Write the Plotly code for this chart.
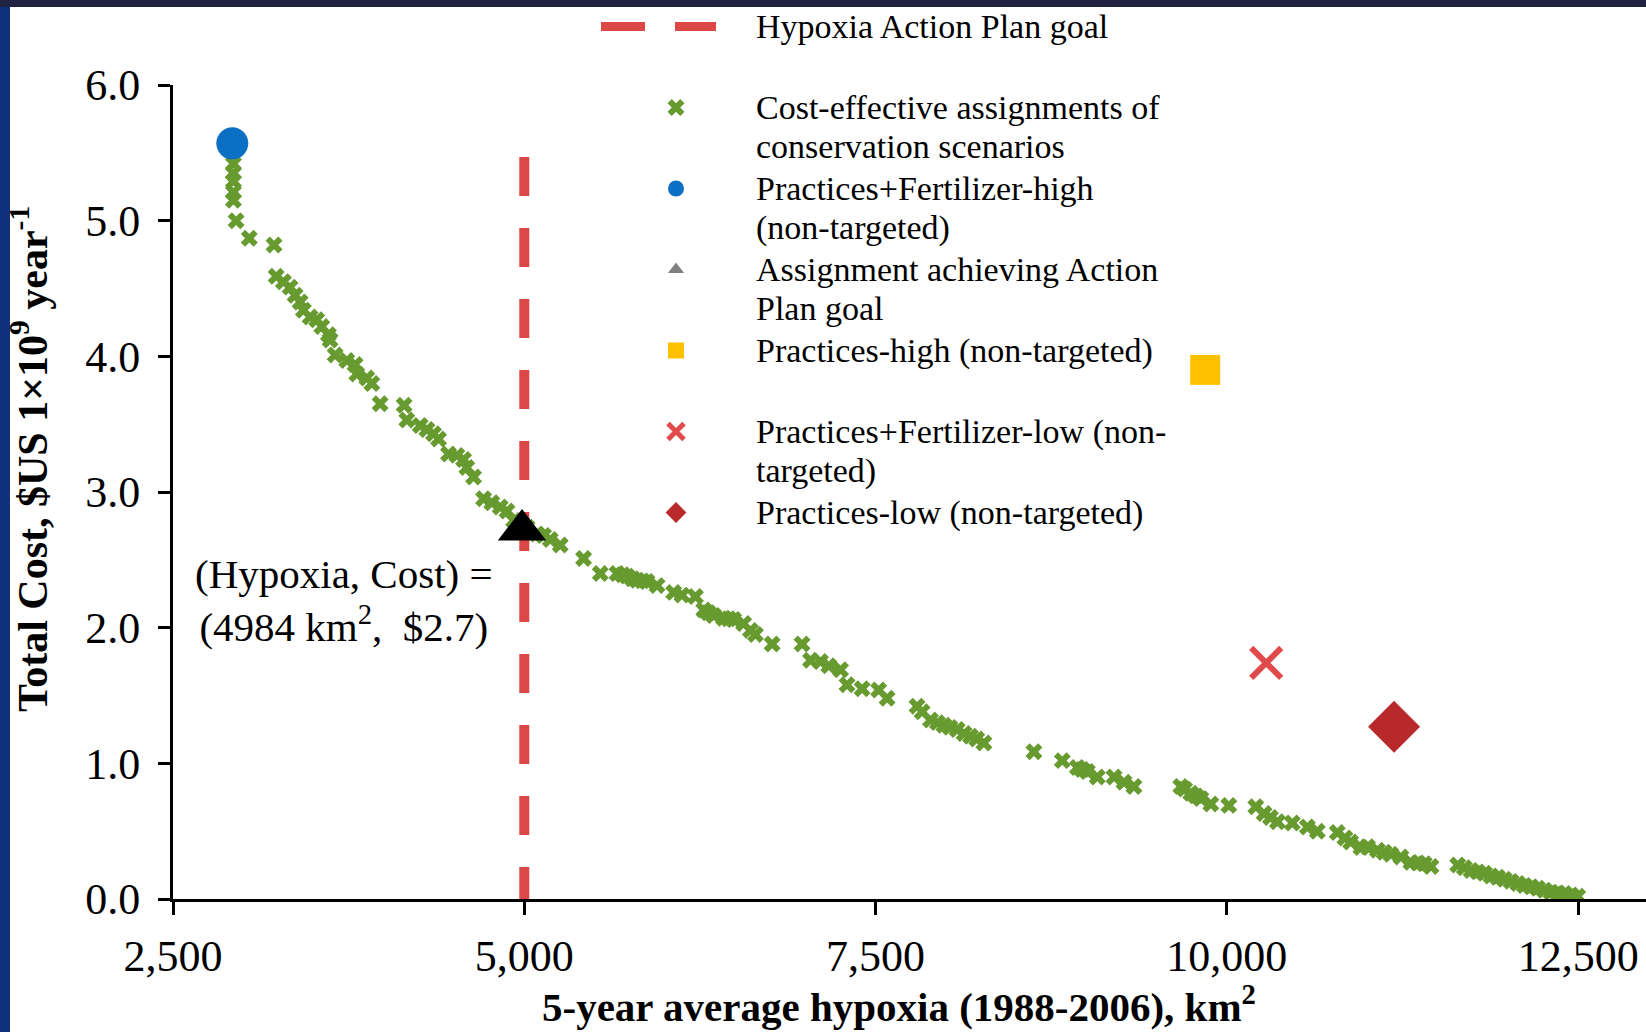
import plotly.graph_objects as go

# ---------------- data ----------------
cost_x = [2930, 2930, 2930, 2930, 2930, 2949, 3043, 3219, 3234, 3286, 3333, 3369, 3405, 3428,
          3476, 3523, 3559, 3606, 3618, 3654, 3737, 3796, 3808, 3879, 3915, 3974, 4145, 4164,
          4259, 4307, 4354, 4390, 4461, 4520, 4568, 4591, 4639, 4710, 4769, 4829, 4877, 4924,
          5020, 5090, 5137, 5185, 5256, 5422, 5541, 5660, 5700, 5731, 5770, 5802, 5840, 5873,
          5945, 6063, 6122, 6218, 6277, 6310, 6348, 6419, 6455, 6490, 6561, 6609, 6645, 6764,
          6977, 7037, 7108, 7167, 7251, 7297, 7404, 7522, 7582, 7795, 7831, 7891, 7940, 7986,
          8030, 8081, 8130, 8176, 8220, 8271, 8627, 8829, 8936, 8970, 9007, 9078, 9197, 9268,
          9339, 9672, 9700, 9743, 9780, 9815, 9886, 10014, 10206, 10265, 10310, 10360, 10466,
          10573, 10644, 10786, 10840, 10881, 10954, 11001, 11072, 11120, 11167, 11239, 11310,
          11360, 11405, 11453, 11643, 11690, 11738, 11785, 11833, 11880, 11927, 11975, 12022,
          12070, 12117, 12165, 12212, 12260, 12307, 12355, 12402, 12450, 12497]
cost_y = [5.42, 5.35, 5.29, 5.21, 5.15, 5.00, 4.87, 4.82, 4.59, 4.55, 4.51, 4.45, 4.40, 4.34,
          4.29, 4.27, 4.22, 4.16, 4.12, 4.01, 3.97, 3.94, 3.87, 3.84, 3.80, 3.65, 3.64, 3.53,
          3.49, 3.46, 3.43, 3.39, 3.28, 3.27, 3.24, 3.18, 3.11, 2.95, 2.92, 2.89, 2.86, 2.79,
          2.74, 2.69, 2.68, 2.65, 2.61, 2.51, 2.40, 2.40, 2.39, 2.38, 2.36, 2.35, 2.345, 2.34,
          2.31, 2.26, 2.24, 2.23, 2.13, 2.11, 2.09, 2.07, 2.065, 2.06, 2.03, 1.98, 1.95, 1.88,
          1.88, 1.76, 1.75, 1.72, 1.69, 1.58, 1.55, 1.54, 1.48, 1.42, 1.38, 1.32, 1.30, 1.28,
          1.265, 1.25, 1.22, 1.20, 1.18, 1.15, 1.085, 1.02, 0.97, 0.955, 0.94, 0.90, 0.90, 0.86,
          0.83, 0.83, 0.81, 0.78, 0.76, 0.74, 0.70, 0.69, 0.68, 0.63, 0.60, 0.57, 0.56,
          0.53, 0.50, 0.49, 0.45, 0.42, 0.38, 0.385, 0.36, 0.345, 0.33, 0.31, 0.27,
          0.265, 0.26, 0.24, 0.25, 0.23, 0.21, 0.20, 0.19, 0.17, 0.16, 0.145, 0.13,
          0.115, 0.10, 0.09, 0.08, 0.065, 0.05, 0.045, 0.04, 0.03, 0.02]

goal_x = [5000, 5000]
goal_y = [5.47, 0.0]

pf_high = (2922, 5.57)      # Practices+Fertilizer-high
action = (4984, 2.72)       # Assignment achieving Action Plan goal
p_high = (9846, 3.90)       # Practices-high
pf_low = (10280, 1.74)      # Practices+Fertilizer-low
p_low = (11190, 1.27)       # Practices-low

x_ticks = [2500, 5000, 7500, 10000, 12500]
y_ticks = [0, 1, 2, 3, 4, 5, 6]

legend_lines = [["Hypoxia Action Plan goal", " "],
                ["Cost-effective assignments of", "conservation scenarios"],
                ["Practices+Fertilizer-high", "(non-targeted)"],
                ["Assignment achieving Action", "Plan goal"],
                ["Practices-high (non-targeted)", " "],
                ["Practices+Fertilizer-low (non-", "targeted)"],
                ["Practices-low (non-targeted)", " "]]

# ---------------- layout constants (pixels) ----------------
W, H = 1646, 1032
L, R, T, B = 173, 0, 85, 133
PW, PH = W - L - R, H - T - B
FONT = "Liberation Serif"
LEG_FONT = 30      # governs legend line spacing
LEG_TEXT = 34      # actual legend glyph size


def px_x(p):
    return (p - L) / PW


def px_y(p):
    return (H - B - p) / PH


def leg(i):
    return "<br>".join('<span style="font-size:%dpx">%s</span>' % (LEG_TEXT, s)
                       for s in legend_lines[i])


fig = go.Figure()

# goal line (legend via separate entry so the legend dash fits the symbol box)
fig.add_trace(go.Scatter(x=goal_x, y=goal_y, mode="lines", showlegend=False,
                         line=dict(color="#dc4848", width=10, dash="39px,32px")))
fig.add_trace(go.Scatter(x=[None], y=[None], mode="lines", name=leg(0),
                         line=dict(color="#dc4848", width=9, dash="44px,30px,41px,200px")))
fig.add_trace(go.Scatter(x=cost_x, y=cost_y, mode="markers", name=leg(1),
                         marker=dict(symbol="x", size=15, color="#679a2f", line=dict(width=0))))
fig.add_trace(go.Scatter(x=[pf_high[0]], y=[pf_high[1]], mode="markers", name=leg(2),
                         marker=dict(symbol="circle", size=32, color="#0b6fc4", line=dict(width=0))))
fig.add_trace(go.Scatter(x=[action[0]], y=[action[1]], mode="markers", showlegend=False,
                         marker=dict(symbol="triangle-up", size=42, color="#000000", line=dict(width=0))))
fig.add_trace(go.Scatter(x=[None], y=[None], mode="markers", name=leg(3),
                         marker=dict(symbol="triangle-up", size=14, color="#808080", line=dict(width=0))))
fig.add_trace(go.Scatter(x=[p_high[0]], y=[p_high[1]], mode="markers", name=leg(4),
                         marker=dict(symbol="square", size=30, color="#ffc000", line=dict(width=0))))
fig.add_trace(go.Scatter(x=[pf_low[0]], y=[pf_low[1]], mode="markers", name=leg(5),
                         marker=dict(symbol="x-thin", size=30, color="#e04a4a",
                                     line=dict(width=6, color="#e04a4a"))))
fig.add_trace(go.Scatter(x=[p_low[0]], y=[p_low[1]], mode="markers", name=leg(6),
                         marker=dict(symbol="diamond", size=40, color="#b8292b", line=dict(width=0))))

shapes = [
    dict(type="rect", xref="paper", yref="paper", x0=px_x(0), x1=px_x(10), y0=px_y(H), y1=px_y(0),
         fillcolor="#10307e", line=dict(width=0), layer="below"),
    dict(type="rect", xref="paper", yref="paper", x0=px_x(0), x1=px_x(W), y0=px_y(7), y1=px_y(0),
         fillcolor="#1f2240", line=dict(width=0), layer="below"),
]

annotations = [
    dict(text="(Hypoxia, Cost) =<br>(4984 km<sup>2</sup>,  $2.7)", x=3718, y=2.20, xref="x", yref="y",
         showarrow=False, font=dict(family=FONT, size=41, color="black"), align="center"),
    dict(text="<b>5-year average hypoxia (1988-2006), km<sup>2</sup></b>", x=px_x(899), y=px_y(1004),
         xref="paper", yref="paper", showarrow=False, xanchor="center", yanchor="middle",
         font=dict(family=FONT, size=41, color="black")),
    dict(text="<b>Total Cost, $US 1×10<sup>9</sup> year<sup>-1</sup></b>", x=px_x(29), y=px_y(459),
         xref="paper", yref="paper", showarrow=False, xanchor="center", yanchor="middle",
         textangle=-90, font=dict(family=FONT, size=42, color="black")),
]

fig.update_layout(
    width=W, height=H, autosize=False,
    margin=dict(l=L, r=R, t=T, b=B, autoexpand=False),
    paper_bgcolor="white", plot_bgcolor="white",
    font=dict(family=FONT, color="black"),
    shapes=shapes, annotations=annotations,
    legend=dict(x=px_x(596), y=px_y(289), xanchor="left", yanchor="middle",
                font=dict(family=FONT, size=LEG_FONT, color="black"),
                itemwidth=150, valign="top", tracegroupgap=0,
                bgcolor="rgba(0,0,0,0)", borderwidth=0),
    xaxis=dict(range=[2500, 12983], tickvals=x_ticks, tickformat=",d",
               showgrid=False, zeroline=False, showline=True, linecolor="black", linewidth=3,
               ticks="outside", ticklen=13, tickwidth=3, tickcolor="black",
               tickfont=dict(family=FONT, size=44, color="black"), ticklabelstandoff=3),
    yaxis=dict(range=[0, 6], tickvals=y_ticks, tickformat=".1f",
               showgrid=False, zeroline=False, showline=True, linecolor="black", linewidth=3,
               ticks="outside", ticklen=12, tickwidth=3, tickcolor="black",
               tickfont=dict(family=FONT, size=44, color="black"), ticklabelstandoff=9),
)

fig.write_html("out.html", config={"displayModeBar": False},
               post_script="document.body.style.margin='0px';")
